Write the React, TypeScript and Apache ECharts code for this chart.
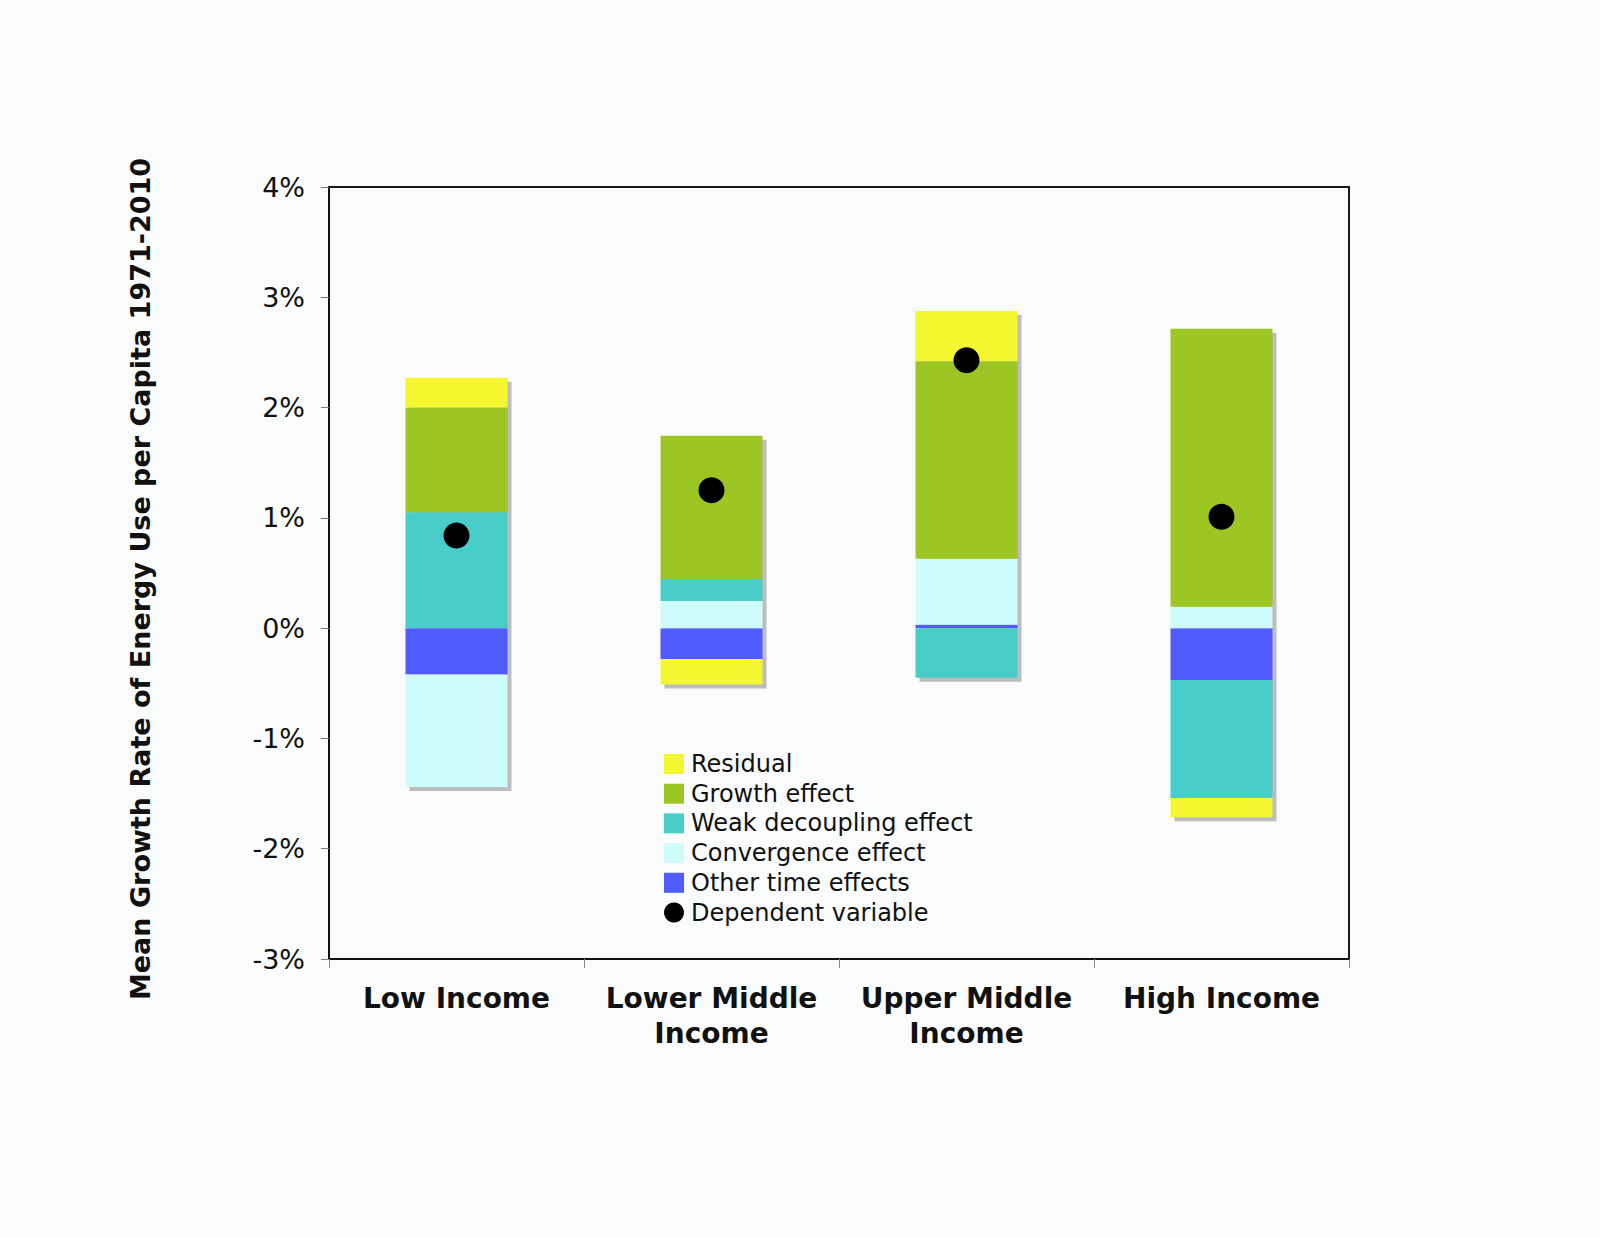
import React, { useEffect, useRef } from "react";
import * as echarts from "echarts";

const categories = ["Low Income", "Lower Middle Income", "Upper Middle Income", "High Income"];
const otherTime = [-0.42, -0.28, 0.03, -0.47];
const convergence = [-1.02, 0.245, 0.6, 0.195];
const weakDecoupling = [1.05, 0.2, -0.45, -1.07];
const growth = [0.95, 1.3, 1.79, 2.52];
const residual = [0.27, -0.23, 0.455, -0.175];
const dependent = [0.84, 1.25, 2.43, 1.01];
const yMin = -3;
const yMax = 4;
const yStep = 1;

const legendOrder = [
  "Residual",
  "Growth effect",
  "Weak decoupling effect",
  "Convergence effect",
  "Other time effects",
  "Dependent variable",
];

const FONT = "'DejaVu Sans', Verdana, sans-serif";
const BG = "#f9fcfb";

export default function App() {
  const ref = useRef<HTMLDivElement>(null);

  useEffect(() => {
    document.body.style.margin = "0";
    document.body.style.background = BG;
    if (!ref.current) return;
    const chart = echarts.init(ref.current, undefined, { renderer: "svg" });

    const stackSeries = [
      { name: "Other time effects", data: otherTime, color: "#4f5bfb" },
      { name: "Convergence effect", data: convergence, color: "#cdfcfb" },
      { name: "Weak decoupling effect", data: weakDecoupling, color: "#49cdc8" },
      { name: "Growth effect", data: growth, color: "#9bc623" },
      { name: "Residual", data: residual, color: "#f4f62f" },
    ];

    const envelope = categories.map((_, i) => {
      let pos = 0;
      let neg = 0;
      stackSeries.forEach((s) => {
        const v = s.data[i];
        if (v >= 0) pos += v;
        else neg += v;
      });
      return [i, neg, pos];
    });

    const option: any = {
      animation: false,
      backgroundColor: BG,
      grid: {
        left: 329,
        right: 251,
        top: 187,
        bottom: 278,
        show: true,
        borderColor: "#1a1a1a",
        borderWidth: 2,
        backgroundColor: "transparent",
      },
      legend: {
        orient: "vertical",
        left: 664,
        top: 752,
        padding: 0,
        itemWidth: 20,
        itemHeight: 20,
        itemGap: 5.7,
        selectedMode: false,
        textStyle: {
          fontFamily: FONT,
          fontSize: 24,
          color: "#111",
          lineHeight: 20,
          padding: [0, 0, 0, 2],
        },
        data: legendOrder.map((n) => ({
          name: n,
          icon: n === "Dependent variable" ? "circle" : "rect",
          itemStyle: n === "Dependent variable" ? { color: "#000", opacity: 1 } : undefined,
        })),
      },
      xAxis: {
        type: "category",
        data: categories,
        axisLine: { show: true, onZero: false, lineStyle: { color: "#111", width: 2 } },
        axisTick: { show: true, length: 9, lineStyle: { color: "#888", width: 1 } },
        axisLabel: {
          interval: 0,
          margin: 22,
          fontFamily: FONT,
          fontSize: 28,
          fontWeight: "bold",
          color: "#111",
          lineHeight: 35,
          formatter: (v: string) => v.replace(" Middle ", " Middle\n"),
        },
        splitLine: { show: false },
      },
      yAxis: {
        type: "value",
        min: yMin,
        max: yMax,
        interval: yStep,
        axisLine: { show: true, lineStyle: { color: "#111", width: 2 } },
        axisTick: { show: true, length: 8, lineStyle: { color: "#777", width: 1 } },
        axisLabel: {
          margin: 24,
          fontFamily: FONT,
          fontSize: 27,
          color: "#111",
          formatter: "{value}%",
        },
        splitLine: { show: false },
      },
      graphic: [
        {
          type: "text",
          x: 140,
          y: 579,
          rotation: Math.PI / 2,
          style: {
            text: "Mean Growth Rate of Energy Use per Capita 1971-2010",
            fontFamily: FONT,
            fontSize: 27,
            fontWeight: "bold",
            fill: "#111",
            textAlign: "center",
            textVerticalAlign: "middle",
          },
        },
      ],
      series: [
        {
          type: "custom",
          name: "shadow",
          z: 1,
          silent: true,
          data: envelope,
          encode: { x: 0, y: [1, 2] },
          renderItem: (params: any, api: any) => {
            const idx = api.value(0);
            const top = api.coord([idx, api.value(2)]);
            const bot = api.coord([idx, api.value(1)]);
            const w = api.size([1, 0])[0] * 0.4;
            return {
              type: "rect",
              shape: { x: top[0] - w / 2 + 4, y: top[1] + 4, width: w, height: bot[1] - top[1] },
              style: { fill: "#bdbdbd" },
            };
          },
        },
        ...stackSeries.map((s) => ({
          type: "bar",
          name: s.name,
          stack: "total",
          barWidth: "40%",
          z: 2,
          data: s.data,
          itemStyle: { color: s.color },
        })),
        {
          type: "scatter",
          name: "Dependent variable",
          z: 3,
          symbol: "circle",
          symbolSize: 26,
          data: dependent,
          itemStyle: { color: "#000", opacity: 1 },
        },
      ],
    };

    chart.setOption(option);
    return () => chart.dispose();
  }, []);

  return (
    <div
      ref={ref}
      style={{ position: "fixed", left: 0, top: 0, width: 1600, height: 1237, background: BG }}
    />
  );
}
